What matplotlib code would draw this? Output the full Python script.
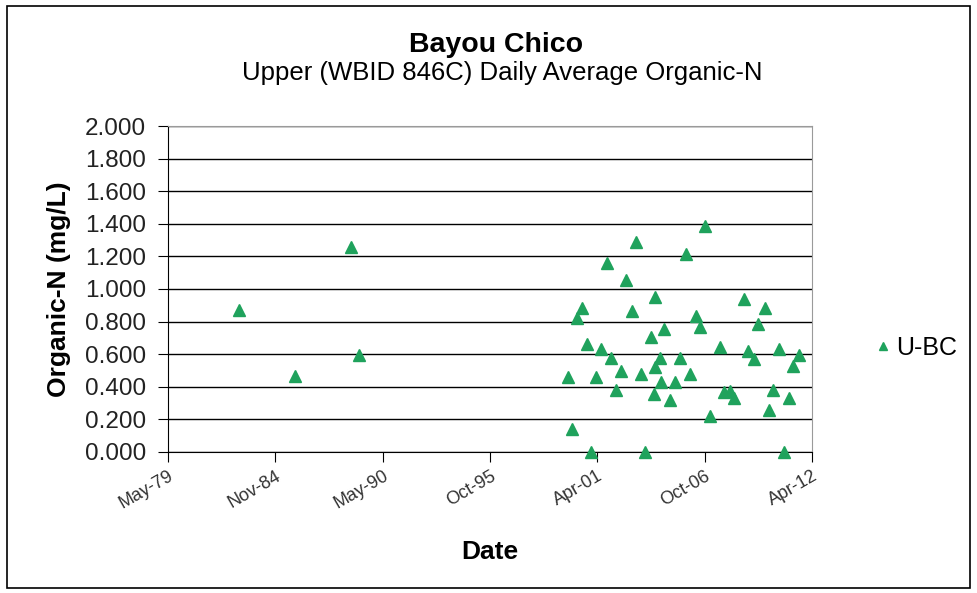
import matplotlib
matplotlib.use("Agg")
import matplotlib.pyplot as plt
import matplotlib.dates as mdates
import matplotlib.ticker as mticker
from matplotlib.patches import Rectangle
import pandas as pd

plt.rcParams['font.family'] = ['Liberation Sans', 'DejaVu Sans']

# sample dates as Excel serial numbers, organic-N in mg/L
date_serial = [30319, 31370, 32415, 32559,
               39016, 37728, 38654, 37187, 37542, 38075, 39736, 36713, 40123, 37640,
               36627, 38835, 39998, 38923, 38238, 38001, 36801, 39283, 37075, 39818,
               40390, 40763, 37249, 38163, 38536, 39923, 38075, 40651, 37435, 36446,
               36982, 37822, 38723, 38182, 38443, 37342, 38051, 38363, 39363, 39469,
               39550, 40278, 40565, 40203, 39096, 36526, 36888, 37896, 40472]
org_n = [0.871, 0.468, 1.26, 0.595,
         1.387, 1.290, 1.215, 1.158, 1.055, 0.949, 0.939, 0.882, 0.882, 0.865,
         0.820, 0.836, 0.785, 0.765, 0.755, 0.707, 0.663, 0.646, 0.630, 0.620,
         0.630, 0.595, 0.579, 0.579, 0.579, 0.569, 0.523, 0.528, 0.499, 0.462,
         0.462, 0.480, 0.480, 0.431, 0.431, 0.380, 0.356, 0.319, 0.370, 0.376,
         0.329, 0.380, 0.329, 0.258, 0.223, 0.143, 0.0, 0.0, 0.0]

# x axis: 29000 to 41000 every 2000 days (Excel serials)
tick_serials = [29000, 31000, 33000, 35000, 37000, 39000, 41000]

def to_date(s):
    return pd.to_datetime(s, unit='D', origin='1899-12-30')

dates = to_date(pd.Series(date_serial))
ticks = to_date(pd.Series(tick_serials))

fig = plt.figure(figsize=(9.77, 5.93), dpi=100)
ax = fig.add_axes([0.172, 0.2378, 0.659, 0.5497])

ax.plot(dates, org_n, linestyle='none', marker='^', markersize=8,
        color='#1fa25c', label='U-BC', clip_on=False, zorder=3)

ax.set_xlim(ticks.iloc[0], ticks.iloc[-1])
ax.set_ylim(0, 2.0)
ax.set_xticks(ticks)
ax.xaxis.set_major_formatter(mdates.DateFormatter('%b-%y'))
ax.yaxis.set_major_locator(mticker.MultipleLocator(0.2))
ax.yaxis.set_major_formatter(mticker.FormatStrFormatter('%.3f'))

ax.grid(axis='y', color='black', linewidth=1.0)
ax.set_axisbelow(True)
for side in ['top', 'right']:
    ax.spines[side].set_color('#9a9a9a')

ax.tick_params(axis='y', labelsize=17.5, length=7, pad=9, direction='out')
ax.tick_params(axis='x', labelsize=13, length=7, pad=4, direction='out')
for lbl in ax.get_yticklabels():
    lbl.set_color('#222222')
for lbl in ax.get_xticklabels():
    lbl.set_rotation(30)
    lbl.set_ha('right')
    lbl.set_rotation_mode('anchor')
    lbl.set_color('#333333')

ax.set_ylabel('Organic-N (mg/L)', fontsize=19, fontweight='bold', labelpad=10)
ax.set_xlabel('Date', fontsize=19, fontweight='bold', labelpad=20)

fig.text(0.508, 0.913, 'Bayou Chico', ha='center', va='baseline',
         fontsize=20.5, fontweight='bold')
fig.text(0.514, 0.865, 'Upper (WBID 846C) Daily Average Organic-N',
         ha='center', va='baseline', fontsize=18.5)

ax.legend(loc='center left', bbox_to_anchor=(1.076, 0.319), frameon=False,
          fontsize=18, borderpad=0, handletextpad=0.1, handlelength=0.8,
          markerscale=0.8)

# outer chart border
fig.patches.append(Rectangle((0.007, 0.008), 0.986, 0.982, transform=fig.transFigure,
                             fill=False, edgecolor='black', linewidth=1.2))

fig.savefig('out.png', dpi=100)
